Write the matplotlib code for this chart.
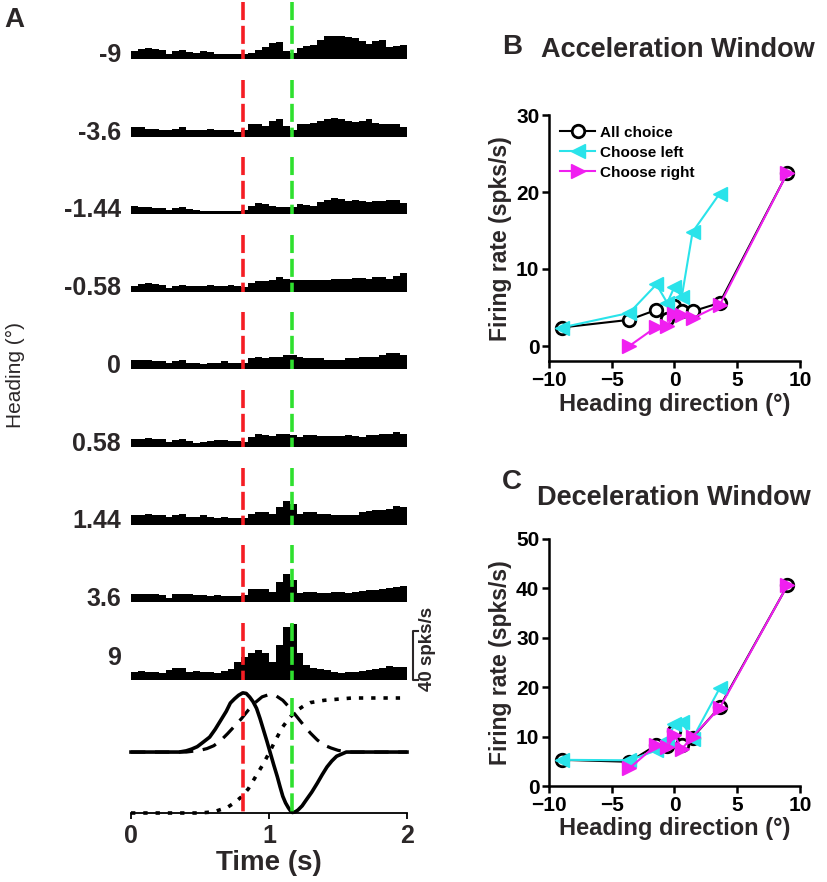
import numpy as np
import matplotlib
matplotlib.use("Agg")
import matplotlib.pyplot as plt

plt.rcParams['font.family'] = ['Liberation Sans', 'DejaVu Sans']
plt.rcParams['font.weight'] = 'bold'
plt.rcParams['axes.labelweight'] = 'bold'

TXT = '#2b2728'
RED = '#f51d24'
GREEN = '#2fe02f'
CYAN = '#2ae3ea'
MAGENTA = '#f01ff0'
W, H = 828, 882

# ---------------- panel A data ----------------
headings = ['-9', '-3.6', '-1.44', '-0.58', '0', '0.58', '1.44', '3.6', '9']
bin_edges = np.linspace(0, 2, 41)  # 50 ms bins
psth = [
    [6.5, 8, 9, 8, 7.5, 4, 6.5, 7.5, 5.5, 5, 6.5, 5.5, 4, 4, 4, 4, 4, 5, 7.5, 10,
     13, 14, 6.5, 5, 9, 10.5, 11.5, 15.5, 19, 19, 19, 18, 17, 14.5, 12, 14.5, 15.5, 10, 10.5, 11.5],
    [7.5, 7.5, 6.5, 6.5, 5.5, 5, 6.5, 7.5, 5.5, 5.5, 5.5, 6.5, 5.5, 5, 5, 4, 5, 10, 10.5, 9,
     13, 14, 9, 5.5, 10, 10.5, 11.5, 13, 14.5, 15.5, 14.5, 13, 12, 13, 14, 11.5, 10.5, 10.5, 10, 8],
    [6.5, 5.5, 5.5, 5, 5, 3.5, 5, 5.5, 4, 3.5, 2.5, 2.5, 2.5, 2.5, 2.5, 2.5, 3.5, 6.5, 9, 8,
     6.5, 5.5, 5.5, 5.5, 8, 7.5, 6.5, 10, 11.5, 13, 12, 10.5, 11.5, 10.5, 10, 10.5, 10.5, 11.5, 11.5, 9],
    [5, 6.5, 7.5, 6.5, 5.5, 3.5, 5, 5.5, 5, 5, 5, 5.5, 5, 5, 5.5, 5, 4, 7.5, 9, 9,
     10, 12, 10.5, 10, 10, 10, 10, 10, 10, 10.5, 10.5, 10.5, 11.5, 11.5, 10.5, 12, 12, 10.5, 13, 15.5],
    [8, 7.5, 8, 6.5, 6.5, 5, 6.5, 7.5, 5.5, 5, 4, 5.5, 5.5, 6.5, 5.5, 5, 5.5, 9, 10, 9,
     10, 10.5, 12, 11.5, 10, 9, 9, 9, 8, 7.5, 8, 9, 9, 10, 10, 10.5, 12, 13, 13, 12],
    [6.5, 6.5, 7.5, 6.5, 6.5, 4, 5.5, 6.5, 5, 3.5, 4, 5, 5.5, 5.5, 5, 5, 4, 8, 10.5, 10,
     9, 10.5, 10.5, 10, 8, 10, 10, 9, 9, 9, 9, 10, 9, 8, 10, 10, 10.5, 10.5, 12, 10.5],
    [7.5, 8, 9, 8, 7.5, 6.5, 8, 9, 6.5, 6.5, 7.5, 6.5, 5.5, 6.5, 5, 5, 5, 9, 10.5, 10,
     9, 14.5, 19, 16.5, 9, 10, 10, 9, 9, 8, 8, 7.5, 8, 10, 11.5, 12, 12, 13, 15.5, 14],
    [6.5, 6.5, 6.5, 6.5, 5.5, 3.5, 6.5, 6.5, 6.5, 5.5, 5.5, 5, 5.5, 5, 5, 5, 5.5, 10.5, 10.5, 10.5,
     8, 16.5, 23, 18, 7.5, 8, 8, 7.5, 7.5, 8, 8, 7.5, 8, 9, 10, 10, 10.5, 11.5, 12, 13],
    [6.5, 7.5, 6.5, 6.5, 5.5, 8, 10, 10, 6.5, 7.5, 6.5, 6.5, 5.5, 7.5, 9, 14.5, 19, 22, 24.5, 22,
     14.5, 28.5, 43, 45.5, 22, 12, 10, 9, 8, 6.5, 5.5, 6.5, 6.5, 7.5, 8, 9, 10, 11.5, 10.5, 10.5],
]
t_acc_peak = 0.81
t_dec_peak = 1.17

# stimulus kinematics (normalised)
t_acc = [0, 0.35, 0.40, 0.44, 0.48, 0.52, 0.57, 0.61, 0.65, 0.69, 0.72, 0.75, 0.78, 0.81, 0.835,
         0.86, 0.885, 0.91, 0.935, 0.96, 0.985, 1.01, 1.035, 1.06, 1.08, 1.10, 1.12, 1.14, 1.155,
         1.17, 1.19, 1.21, 1.24, 1.27, 1.31, 1.35, 1.385, 1.42, 1.455, 1.49, 1.53, 1.56, 1.6, 2.0]
acc = [0, 0, 0.02, 0.05, 0.09, 0.16, 0.25, 0.38, 0.53, 0.68, 0.82, 0.89, 0.95, 0.99, 0.98,
       0.92, 0.84, 0.73, 0.56, 0.37, 0.18, -0.02, -0.22, -0.41, -0.58, -0.74, -0.85, -0.93, -0.98,
       -1.01, -1.0, -0.97, -0.9, -0.8, -0.67, -0.52, -0.38, -0.25, -0.15, -0.07, -0.03, 0, 0, 0]
t_vel = [0, 0.4, 0.5, 0.55, 0.6, 0.65, 0.7, 0.75, 0.8, 0.85, 0.9, 0.95, 1.0, 1.05, 1.1, 1.15,
         1.2, 1.25, 1.3, 1.35, 1.4, 1.45, 1.5, 1.55, 1.6, 2.0]
vel = [0, 0, 0.03, 0.06, 0.11, 0.20, 0.32, 0.45, 0.58, 0.73, 0.86, 0.96, 1.0, 0.98, 0.90, 0.77,
       0.62, 0.47, 0.33, 0.21, 0.12, 0.07, 0.03, 0.01, 0, 0]
t_pos = [0, 0.5, 0.6, 0.65, 0.7, 0.75, 0.8, 0.85, 0.9, 0.95, 1.0, 1.05, 1.1, 1.15, 1.2, 1.25,
         1.3, 1.35, 1.4, 1.5, 1.6, 2.0]
pos = [0, 0, 0.01, 0.03, 0.05, 0.09, 0.14, 0.21, 0.31, 0.41, 0.52, 0.64, 0.75, 0.83, 0.89, 0.93,
       0.96, 0.97, 0.98, 0.99, 1.0, 1.0]

# ---------------- panels B and C data ----------------
heading_dir = [-9, -3.6, -1.44, -0.58, 0, 0.58, 1.44, 3.6, 9]
acc_all = [2.4, 3.4, 4.7, 3.5, 5.2, 4.6, 4.5, 5.6, 22.5]
acc_left = [2.4, 4.3, 8.0, 5.6, 7.7, 6.4, 14.8, 19.8]      # -9 .. 3.6
acc_right = [0.0, 2.5, 2.6, 4.1, 4.0, 3.6, 5.3, 22.5]      # -3.6 .. 9
dec_all = [5.3, 4.9, 8.3, 8.0, 11.1, 8.4, 9.8, 16.0, 40.6]
dec_left = [5.3, 5.2, 7.2, 9.3, 12.5, 12.9, 9.6, 19.8]
dec_right = [3.6, 8.3, 7.8, 10.3, 7.5, 10.0, 15.8, 40.6]


def px_axes(left, top, right, bottom):
    return fig.add_axes([left / W, 1 - bottom / H, (right - left) / W, (bottom - top) / H])


fig = plt.figure(figsize=(W / 100, H / 100), dpi=100)

# ---- panel A: PSTHs
label_y = [55, 133, 210, 288, 366, 444, 521, 599, 658]
for i, (lab, vals) in enumerate(zip(headings, psth)):
    b = 59 + 77.6 * i
    ax = px_axes(131, b - 57, 407, b)
    ax.stairs(vals, bin_edges, fill=True, color='black', baseline=0)
    for t, c in [(t_acc_peak, RED), (t_dec_peak, GREEN)]:
        ax.plot([t, t], [46.5, 0], color=c, lw=2.6, dashes=(5, 1.6))
    ax.set_xlim(0, 2)
    ax.set_ylim(0, 46.5)
    ax.axis('off')
    fig.text(121 / W, 1 - label_y[i] / H, lab, ha='right', va='center', fontsize=18, color=TXT)
    if i == len(headings) - 1:
        # 40 spks/s scale bar
        ax.plot([2.08, 2.043, 2.043, 2.08], [40, 40, 0, 0], color=TXT, lw=1.5, clip_on=False)
        ax.text(2.15, 25, '40 spks/s', rotation=90, ha='center', va='center', fontsize=13.5, color=TXT)

# ---- panel A: kinematics
ax = px_axes(131, 688, 407, 813)
ax.plot(t_pos, pos, color='k', lw=2.6, linestyle=(0, (1.2, 2.2)), clip_on=False)
ax.plot(t_vel, 0.53 + 0.5 * np.array(vel), color='k', lw=2.3, dashes=(4.5, 3), clip_on=False)
ax.plot(t_acc, 0.53 + 0.52 * np.array(acc), color='k', lw=2.6, clip_on=False)
for t, c in [(t_acc_peak, RED), (t_dec_peak, GREEN)]:
    ax.plot([t, t], [1.0, 0], color=c, lw=2.6, dashes=(5, 1.6))
ax.set_xlim(0, 2)
ax.set_ylim(0, 1.087)
for s in ['top', 'right', 'left']:
    ax.spines[s].set_visible(False)
ax.spines['bottom'].set_linewidth(1.3)
ax.set_yticks([])
ax.set_xticks([0, 1, 2])
ax.tick_params(axis='x', length=4, width=1.3, labelsize=18, labelcolor=TXT, pad=4)
ax.set_xlabel('Time (s)', fontsize=20, color=TXT, labelpad=1)

fig.text(14 / W, 1 - 20 / H, 'A', fontsize=20, color=TXT, ha='center', va='center')
fig.text(15 / W, 1 - 375 / H, 'Heading (°)', rotation=90, fontsize=15, fontweight='normal',
         color=TXT, ha='center', va='center')


# ---- panels B and C
def tuning(ax, all_v, left_v, right_v, ylim, yticks):
    ax.plot(heading_dir, all_v, '-o', color='k', mfc='white', mec='k', mew=2, ms=9, lw=1.5,
            label='All choice')
    ax.plot(heading_dir[:8], left_v, '-<', color=CYAN, ms=10, lw=1.5, label='Choose left')
    ax.plot(heading_dir[1:], right_v, '->', color=MAGENTA, ms=10, lw=1.5, label='Choose right')
    ax.set_xlim(-10, 10)
    ax.set_ylim(*ylim)
    ax.set_xticks([-10, -5, 0, 5, 10])
    ax.set_yticks(yticks)
    for s in ['top', 'right']:
        ax.spines[s].set_visible(False)
    for s in ['left', 'bottom']:
        ax.spines[s].set_linewidth(1.8)
    ax.tick_params(length=5, width=1.8, labelsize=15, pad=2)
    ax.set_xlabel('Heading direction (°)', fontsize=17, color=TXT, labelpad=2)
    ax.set_ylabel('Firing rate (spks/s)', fontsize=16.5, color=TXT, labelpad=3)


axB = px_axes(549, 115, 800, 361.4)
tuning(axB, acc_all, acc_left, acc_right, (-2, 30), [0, 10, 20, 30])
axB.legend(loc='upper left', bbox_to_anchor=(0.045, 0.957), frameon=False, fontsize=11,
           handlelength=2.3, handletextpad=0.3, labelspacing=0.4, numpoints=1,
           borderaxespad=0, borderpad=0)

axC = px_axes(549, 539, 800, 786)
tuning(axC, dec_all, dec_left, dec_right, (0, 50), [0, 10, 20, 30, 40, 50])

fig.text(512 / W, 1 - 47 / H, 'B', fontsize=20, color=TXT, ha='center', va='center')
fig.text(512 / W, 1 - 482 / H, 'C', fontsize=20, color=TXT, ha='center', va='center')
fig.text(678 / W, 1 - 50 / H, 'Acceleration Window', fontsize=19.5, color=TXT, ha='center', va='center')
fig.text(674 / W, 1 - 498 / H, 'Deceleration Window', fontsize=19.5, color=TXT, ha='center', va='center')

fig.savefig('out.png', dpi=100)
